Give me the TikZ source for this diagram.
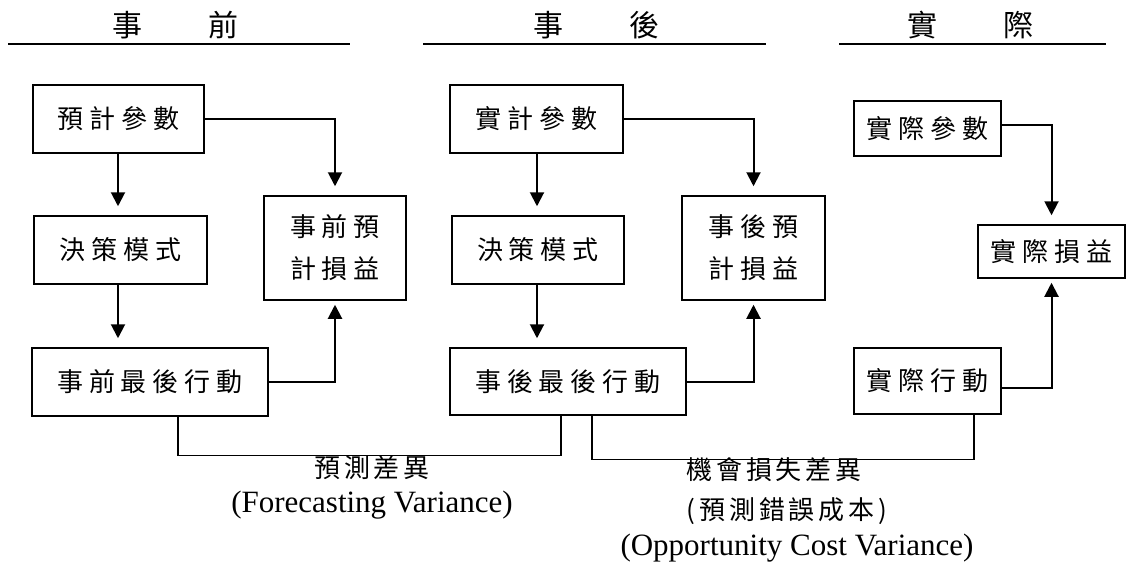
\documentclass[tikz,border=0pt]{standalone}
\usepackage{fontspec}
\setmainfont{Liberation Serif}
\newfontfamily\cjk{Noto Sans CJK TC}
\newfontfamily\cjkwide[LetterSpace=23]{Noto Sans CJK TC}
\newfontfamily\cjklbl[LetterSpace=15]{Noto Sans CJK TC}
\usetikzlibrary{arrows.meta}

\begin{document}
\begin{tikzpicture}[x=0.5pt,y=-0.5pt,
  box/.style={draw, line width=0.75pt, inner sep=0pt, align=center,
              font=\cjkwide\fontsize{13pt}{21pt}\selectfont},
  arrdown/.style={line width=1pt, -{Triangle[length=7pt,width=7pt]}, shorten >=4.5pt},
  arrup/.style={line width=1pt, -{Triangle[length=7pt,width=7pt]}, shorten >=2pt},
  link/.style={line width=0.6pt},
  rule/.style={line width=1pt},
  head/.style={inner sep=0pt, font=\cjk\fontsize{15pt}{17pt}\selectfont},
  lblcjk/.style={inner sep=0pt, font=\cjklbl\fontsize{13pt}{15pt}\selectfont},
  lbllat/.style={inner sep=0pt, font=\fontsize{15.5pt}{17pt}\selectfont}]
\useasboundingbox (0,0) rectangle (1128,567);

% column headings with their rules
\node[head] (h1) at (175,25) {事\hspace{33pt}前};
\node[head] (h2) at (596,25) {事\hspace{33pt}後};
\node[head] (h3) at (970,25) {實\hspace{33pt}際};
\draw[rule] (8,44.5) -- (350,44.5);
\draw[rule] (423,44.5) -- (766,44.5);
\draw[rule] (839,44.5) -- (1106,44.5);

% ex-ante column
\node[box, minimum width=85.5pt, minimum height=34pt] (a1) at (118.5,119) {預計參數};
\node[box, minimum width=86.5pt, minimum height=34pt] (a2) at (120.5,250) {決策模式};
\node[box, minimum width=118pt, minimum height=34pt] (a3) at (150,382) {事前最後行動};
\node[box, minimum width=71pt, minimum height=52pt] (a4) at (335,248) {事前預\\計損益};

% ex-post column
\node[box, minimum width=86.5pt, minimum height=34pt] (b1) at (536.5,119) {實計參數};
\node[box, minimum width=86pt, minimum height=34pt] (b2) at (538,250) {決策模式};
\node[box, minimum width=118pt, minimum height=33.5pt] (b3) at (568,381.5) {事後最後行動};
\node[box, minimum width=71.5pt, minimum height=52pt] (b4) at (753.5,248) {事後預\\計損益};

% actual column
\node[box, minimum width=73.5pt, minimum height=27.5pt] (c1) at (927.5,128.5) {實際參數};
\node[box, minimum width=73.5pt, minimum height=26.5pt] (c2) at (1051.5,251.5) {實際損益};
\node[box, minimum width=73.5pt, minimum height=33pt] (c3) at (927.5,381) {實際行動};

% flows
\draw[arrdown] (a1.south -| 118,0) -- (a2.north -| 118,0);
\draw[arrdown] (a1.east) -| (a4.north);
\draw[arrdown] (a2.south -| 118,0) -- (a3.north -| 118,0);
\draw[arrup] (a3.east) -| (a4.south);

\draw[arrdown] (b1.south -| 537,0) -- (b2.north -| 537,0);
\draw[arrdown] (b1.east) -| (b4.north);
\draw[arrdown] (b2.south -| 537,0) -- (b3.north -| 537,0);
\draw[arrup] (b3.east) -| (b4.south);

\draw[arrdown] ([yshift=1.75pt]c1.east) -| (c2.north);
\draw[arrup] ([yshift=-3.5pt]c3.east) -| (c2.south);

% variance brackets
\draw[link] ([xshift=14pt]a3.south) -- ++(0,-19.5pt) -| ([xshift=-3.5pt]b3.south);
\draw[link] ([xshift=12pt]b3.south) -- ++(0,-22pt) -| ([xshift=23.25pt]c3.south);

% labels
\node[lblcjk] (l1) at (372,468) {預測差異};
\node[lbllat] (l1e) at (372,505) {(Forecasting Variance)};
\node[lblcjk] (l2) at (774,470) {機會損失差異};
\node[lblcjk] (l2b) at (787,511) {(預測錯誤成本)};
\node[lbllat] (l2e) at (797,548) {(Opportunity Cost Variance)};
\end{tikzpicture}
\end{document}
